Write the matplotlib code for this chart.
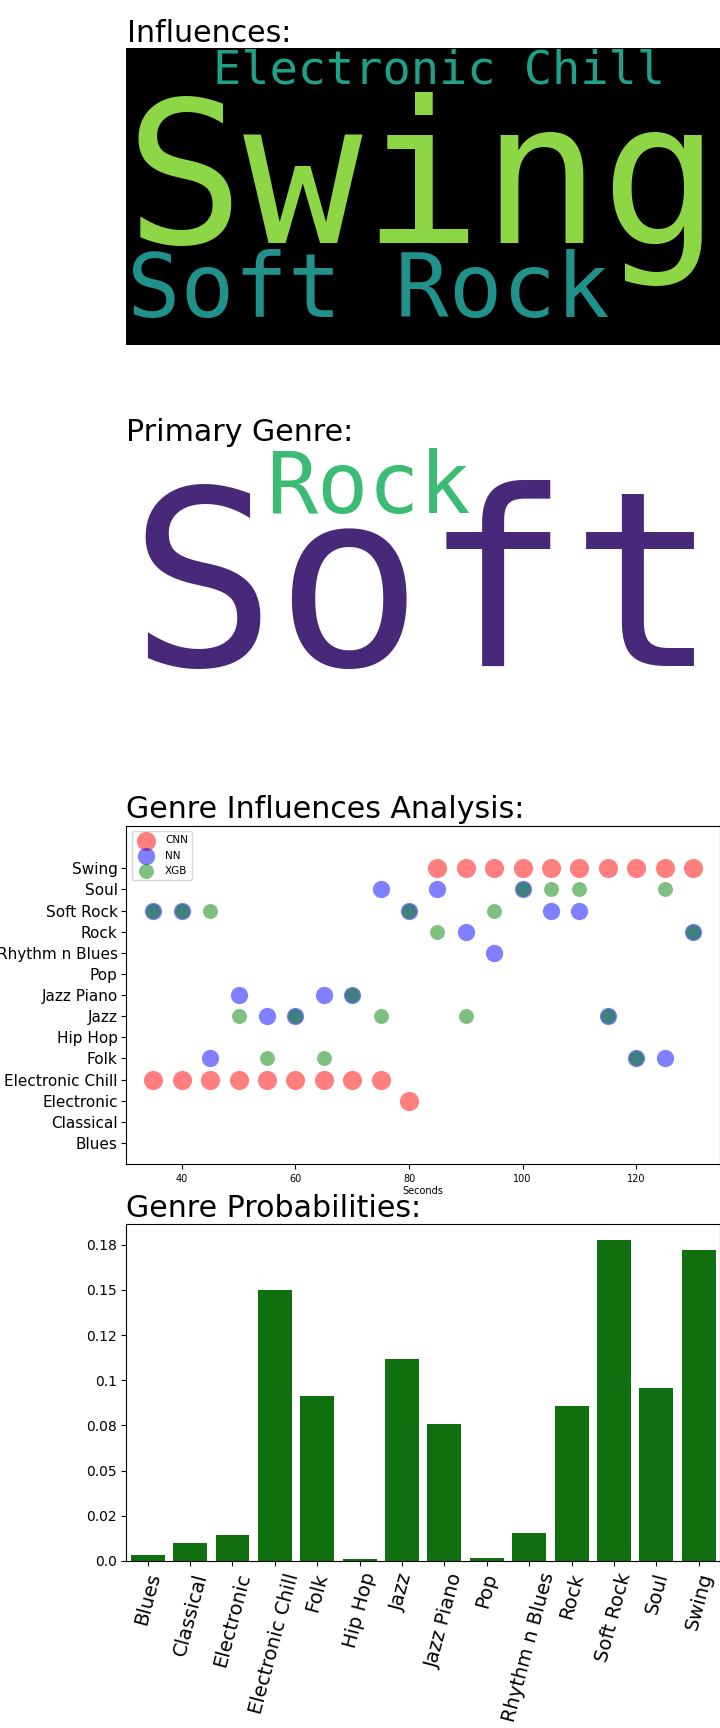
import matplotlib
matplotlib.use('Agg')
import matplotlib.pyplot as plt

# genre list used by both the scatter and the bar chart
genres = ['Blues', 'Classical', 'Electronic', 'Electronic Chill', 'Folk', 'Hip Hop', 'Jazz',
          'Jazz Piano', 'Pop', 'Rhythm n Blues', 'Rock', 'Soft Rock', 'Soul', 'Swing']

probs = [0.0035, 0.0100, 0.0144, 0.1499, 0.0912, 0.0009, 0.1115,
         0.0759, 0.0018, 0.0155, 0.0858, 0.1774, 0.0956, 0.1719]

prob_ticks = [0.0, 0.025, 0.05, 0.075, 0.1, 0.125, 0.15, 0.175]
prob_tick_labels = ['0.0', '0.02', '0.05', '0.08', '0.1', '0.12', '0.15', '0.18']

seconds = [35, 40, 45, 50, 55, 60, 65, 70, 75, 80,
           85, 90, 95, 100, 105, 110, 115, 120, 125, 130]

cnn_pred = ['Electronic Chill', 'Electronic Chill', 'Electronic Chill', 'Electronic Chill',
            'Electronic Chill', 'Electronic Chill', 'Electronic Chill', 'Electronic Chill',
            'Electronic Chill', 'Electronic', 'Swing', 'Swing', 'Swing', 'Swing', 'Swing',
            'Swing', 'Swing', 'Swing', 'Swing', 'Swing']
nn_pred = ['Soft Rock', 'Soft Rock', 'Folk', 'Jazz Piano', 'Jazz', 'Jazz', 'Jazz Piano',
           'Jazz Piano', 'Soul', 'Soft Rock', 'Soul', 'Rock', 'Rhythm n Blues', 'Soul',
           'Soft Rock', 'Soft Rock', 'Jazz', 'Folk', 'Folk', 'Rock']
xgb_pred = ['Soft Rock', 'Soft Rock', 'Soft Rock', 'Jazz', 'Folk', 'Jazz', 'Folk',
            'Jazz Piano', 'Jazz', 'Soft Rock', 'Rock', 'Jazz', 'Soft Rock', 'Soul',
            'Soul', 'Soul', 'Jazz', 'Folk', 'Soul', 'Rock']

# word clouds: words shown in each cloud
influence_words = ['Electronic Chill', 'Swing', 'Soft Rock']
primary_words = ['Rock', 'Soft']

# layout of the words (axes fraction x, baseline y, size px, colour)
influence_layout = [(0.146, 0.880, 47, '#1fa088'),
                    (-0.003, 0.344, 198, '#8dd645'),
                    (0.001, 0.095, 89, '#21918c')]
primary_layout = [(0.2345, 0.779, 85, '#3cbb75'),
                  (0.0025, 0.264, 245, '#482878')]

W, H = 720, 1728
DPI = 100
TITLE_SIZE = 21.6


def rect(left, top, right, bottom):
    return [left / W, 1 - bottom / H, (right - left) / W, (bottom - top) / H]


def px2pt(px):
    return px * 72 / DPI


fig = plt.figure(figsize=(W / DPI, H / DPI), dpi=DPI)

# --- word cloud 1 ---
ax1 = fig.add_axes(rect(126.5, 48.3, 720, 345.3))
ax1.set_facecolor('black')
ax1.set_xticks([])
ax1.set_yticks([])
for s in ax1.spines.values():
    s.set_visible(False)
for word, (x, y, size, col) in zip(influence_words, influence_layout):
    ax1.text(x, y, word, transform=ax1.transAxes, fontsize=px2pt(size), color=col,
             family='DejaVu Sans Mono', ha='left', va='baseline', clip_on=True)
ax1.set_title('Influences:', loc='left', fontsize=TITLE_SIZE, pad=4.5)

# --- word cloud 2 ---
ax2 = fig.add_axes(rect(126.5, 447.3, 720, 744.3))
ax2.axis('off')
for word, (x, y, size, col) in zip(primary_words, primary_layout):
    ax2.text(x, y, word, transform=ax2.transAxes, fontsize=px2pt(size), color=col,
             family='DejaVu Sans Mono', ha='left', va='baseline', clip_on=True)
ax2.set_title('Primary Genre:', loc='left', fontsize=TITLE_SIZE, pad=4.5)

# --- scatter of model predictions over time ---
ax3 = fig.add_axes(rect(126.5, 826, 720, 1164))
pos = {g: i for i, g in enumerate(genres)}
ax3.scatter(seconds, [pos[g] for g in cnn_pred], s=190, c='red', alpha=0.5,
            linewidths=0, label='CNN')
ax3.scatter(seconds, [pos[g] for g in nn_pred], s=155, c='blue', alpha=0.5,
            linewidths=0, label='NN')
ax3.scatter(seconds, [pos[g] for g in xgb_pred], s=115, c='green', alpha=0.5,
            linewidths=0, label='XGB')
ax3.set_yticks(range(len(genres)))
ax3.set_yticklabels(genres, fontsize=11)
ax3.tick_params(axis='y', pad=2.8)
ax3.set_ylim(-1, 15)
ax3.tick_params(axis='x', labelsize=7)
ax3.set_xlabel('Seconds', fontsize=7, labelpad=2)
ax3.legend(loc='upper left', fontsize=7.5)
ax3.set_title('Genre Influences Analysis:', loc='left', fontsize=TITLE_SIZE, pad=5.5)

# --- bar chart of genre probabilities ---
ax4 = fig.add_axes(rect(126.5, 1224.3, 720, 1561))
ax4.bar(range(len(genres)), probs, width=0.8, color='#107010')
ax4.set_xlim(-0.5, len(genres) - 0.5)
ax4.set_xticks(range(len(genres)))
ax4.set_xticklabels(genres, rotation=75, fontsize=14)
ax4.set_yticks(prob_ticks)
ax4.set_yticklabels(prob_tick_labels, fontsize=10)
ax4.set_title('Genre Probabilities:', loc='left', fontsize=TITLE_SIZE, pad=5.5)

fig.savefig('out.png', dpi=DPI)
